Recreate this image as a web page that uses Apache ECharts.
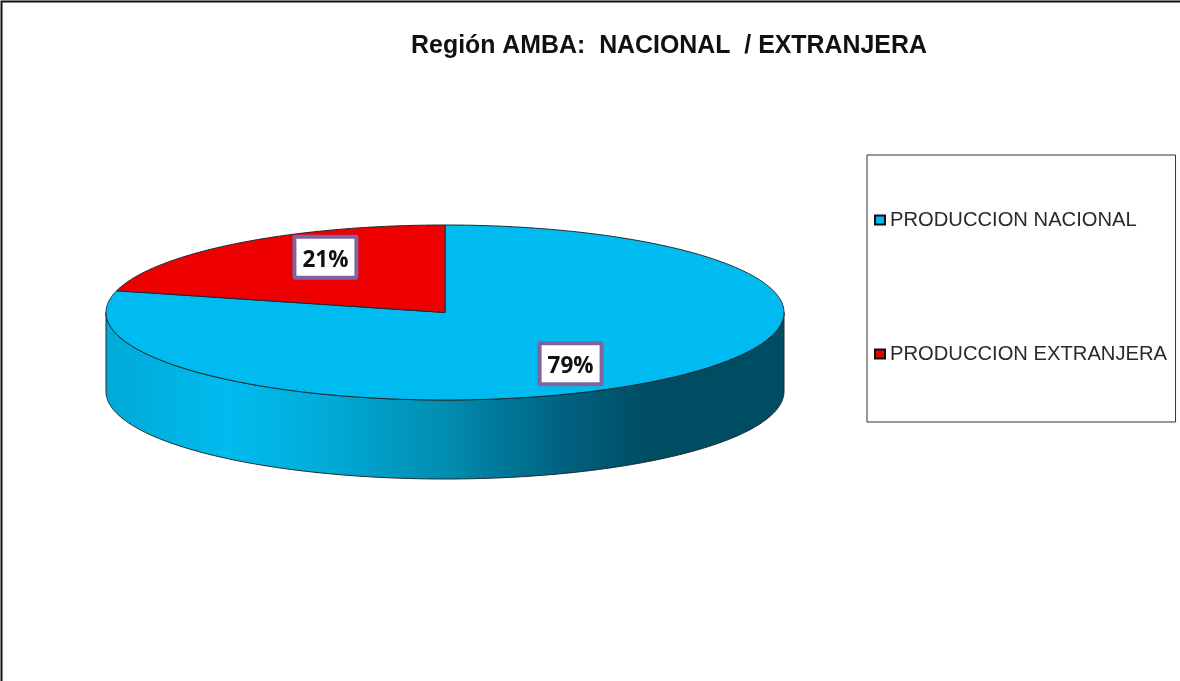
<!DOCTYPE html>
<html>
<head>
<meta charset="utf-8">
<style>html,body{margin:0;padding:0;background:#fff}#c{width:1180px;height:681px}</style>
<script src="https://cdn.jsdelivr.net/npm/echarts@6/dist/echarts.min.js"></script>
</head>
<body>
<div id="c"></div>
<script>
const categories = ['PRODUCCION NACIONAL', 'PRODUCCION EXTRANJERA'];
const values = [79, 21];
const colors = ['#00BBEF', '#EE0000'];
const titleText = 'Región AMBA:  NACIONAL  / EXTRANJERA';

const total = values.reduce((a, b) => a + b, 0);
const geo = { cx: 445, cy: 312.5, rx: 339, ry: 87.5, depth: 79 };
const pt = (ang, lift) => [geo.cx + geo.rx * Math.sin(ang), geo.cy - geo.ry * Math.cos(ang) + (lift || 0)];

function arcPoints(a0, a1, lift) {
  const pts = [];
  const n = Math.max(2, Math.ceil(Math.abs(a1 - a0) / 0.01));
  for (let i = 0; i <= n; i++) pts.push(pt(a0 + (a1 - a0) * i / n, lift));
  return pts;
}

function makeRender(idx) {
  return function (params, api) {
    const before = values.slice(0, idx).reduce((a, b) => a + b, 0);
    const a0 = before / total * 2 * Math.PI;
    const a1 = (before + api.value(0)) / total * 2 * Math.PI;
    const children = [];
    const fa0 = Math.max(a0, Math.PI / 2), fa1 = Math.min(a1, Math.PI * 1.5);
    if (fa1 > fa0) {
      const top = arcPoints(fa0, fa1, 0);
      const bottom = arcPoints(fa1, fa0, geo.depth);
      children.push({
        type: 'polygon',
        shape: { points: top.concat(bottom) },
        style: {
          fill: new echarts.graphic.LinearGradient(0, 0, 1, 0, [
            { offset: 0, color: '#00A9D6' },
            { offset: 0.18, color: '#00BBEF' },
            { offset: 0.3, color: '#00AFDC' },
            { offset: 0.5, color: '#008DB0' },
            { offset: 0.68, color: '#00617F' },
            { offset: 0.8, color: '#004C63' },
            { offset: 1, color: '#004C63' }
          ]),
          stroke: '#1a2a30', lineWidth: 1
        }
      });
    }
    const sweep = arcPoints(a0, a1, 0);
    children.push({
      type: 'polygon',
      shape: { points: [[geo.cx, geo.cy]].concat(sweep) },
      style: { fill: colors[idx], stroke: '#1a2a30', lineWidth: 1 }
    });
    return { type: 'group', children };
  };
}

function labelRender(idx) {
  return function (params, api) {
    const before = values.slice(0, idx).reduce((a, b) => a + b, 0);
    const mid = (before + api.value(0) / 2) / total * 2 * Math.PI;
    const bx = geo.cx + 3 + geo.rx * 0.59 * Math.sin(mid);
    const by = geo.cy - 2 - geo.ry * 0.77 * Math.cos(mid);
    return {
      type: 'group',
      children: [{
        type: 'rect',
        shape: { x: bx - 31, y: by - 20.5, width: 62, height: 41, r: 1 },
        style: { fill: '#fff', stroke: '#8064A2', lineWidth: 4 }
      }, {
        type: 'text',
        x: bx,
        y: by + 3,
        style: {
          text: Math.round(api.value(0) / total * 100) + '%',
          font: 'bold 22.5px "Open Sans"',
          fill: '#111',
          align: 'center',
          verticalAlign: 'middle'
        }
      }]
    };
  };
}

const series = categories.map((name, i) => ({
  type: 'custom',
  name,
  coordinateSystem: 'none',
  silent: true,
  animation: false,
  z: 2,
  itemStyle: { color: colors[i] },
  data: [values[i]],
  renderItem: makeRender(i)
})).concat(categories.map((name, i) => ({
  type: 'custom',
  name: name + ' label',
  coordinateSystem: 'none',
  silent: true,
  animation: false,
  z: 3,
  data: [values[i]],
  renderItem: labelRender(i)
})));

const chart = echarts.init(document.getElementById('c'), null, { renderer: 'canvas' });
chart.setOption({
  backgroundColor: '#fff',
  animation: false,
  title: {
    text: titleText,
    left: 664, top: 29, textAlign: 'center',
    textStyle: { fontFamily: '"Liberation Sans"', fontWeight: 'bold', fontSize: 24.9, color: '#111' }
  },
  legend: {
    orient: 'vertical',
    left: 867, top: 155,
    padding: [55, 8.5, 58, 7],
    backgroundColor: '#fff',
    borderColor: '#333', borderWidth: 1,
    itemWidth: 10, itemHeight: 9, itemGap: 114,
    selectedMode: false,
    textStyle: { fontFamily: '"Liberation Sans"', fontSize: 20.2, color: '#2a2a2a', lineHeight: 20 },
    data: categories.map((name, i) => ({
      name, icon: 'rect',
      itemStyle: { color: colors[i], borderColor: '#111', borderWidth: 2 }
    }))
  },
  graphic: [{
    type: 'polyline',
    silent: true,
    shape: { points: [[1.5, 681], [1.5, 1.5], [1180, 1.5]] },
    style: { fill: null, stroke: '#111', lineWidth: 2 }
  }],
  series
});
</script>
</body>
</html>
